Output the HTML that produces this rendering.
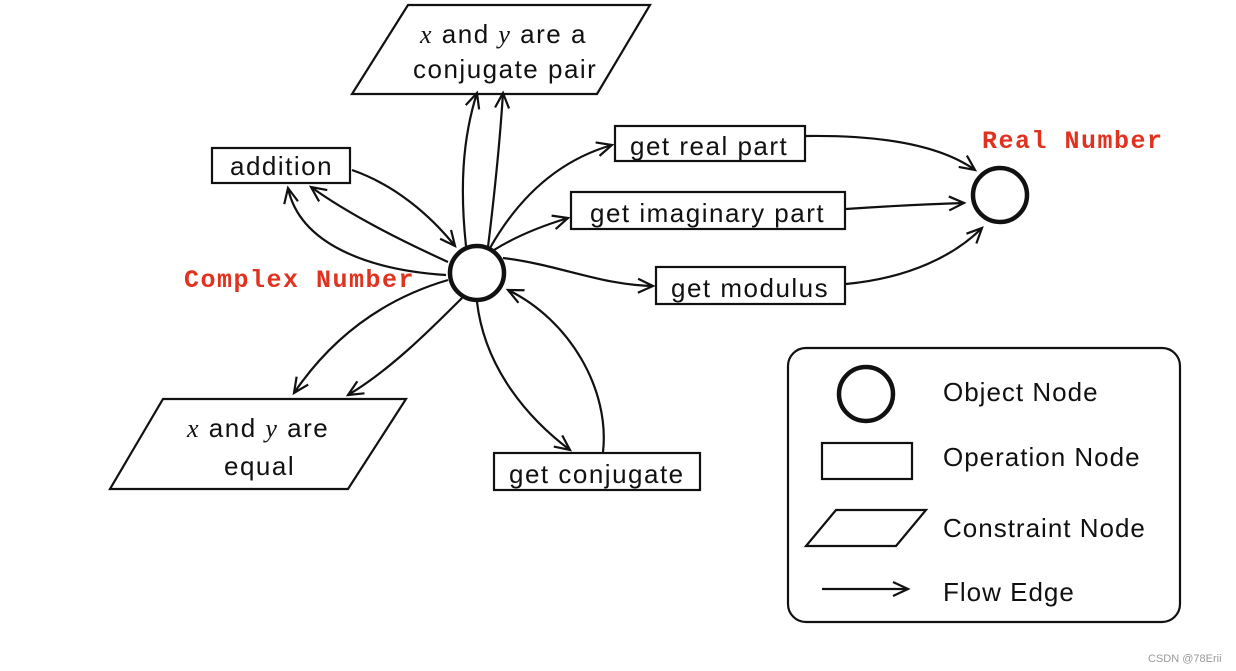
<!DOCTYPE html>
<html><head><meta charset="utf-8"><style>
html,body{margin:0;padding:0;background:#fff;}
svg{display:block;}
text{font-family:"Liberation Sans",sans-serif;font-size:26px;fill:#111;letter-spacing:1.5px;}
.lg{letter-spacing:1px;}
.r{font-family:"Liberation Mono",monospace;font-weight:bold;font-size:25px;fill:#e0321e;letter-spacing:1.5px;}
.m{font-family:"Liberation Serif",serif;font-style:italic;}
</style></head><body>
<svg width="1236" height="671" viewBox="0 0 1236 671" xmlns="http://www.w3.org/2000/svg">
<defs>
<marker id="a" markerWidth="20" markerHeight="20" refX="17" refY="8" orient="auto" markerUnits="userSpaceOnUse">
<path d="M2,1 L17,8 L2,15" fill="none" stroke="#111" stroke-width="2.2"/>
</marker>
</defs>
<g fill="none" stroke="#111" stroke-width="2.2">
<path d="M408,5 L650,5 L597,94 L352,94 Z"/>
<rect x="212" y="148" width="138" height="35"/>
<rect x="615" y="126" width="190" height="35"/>
<rect x="571" y="192" width="274" height="37"/>
<rect x="656" y="267" width="189" height="37"/>
<rect x="494" y="453" width="206" height="37"/>
<path d="M163,399 L406,399 L348,489 L110,489 Z"/>
<circle cx="477" cy="273" r="27" stroke-width="4.5"/>
<circle cx="1000" cy="195" r="27" stroke-width="4.5"/>
<g marker-end="url(#a)">
<path d="M352,170 C395,185 430,215 455,246"/>
<path d="M448,262 C400,240 350,215 311,187"/>
<path d="M446,275 C370,270 300,245 288,188"/>
<path d="M466,246 C460,190 462,140 477,93"/>
<path d="M488,247 C495,190 500,140 503,93"/>
<path d="M490,248 C520,195 560,160 612,145"/>
<path d="M494,250 C510,240 535,228 568,218"/>
<path d="M503,258 C560,265 600,285 653,286"/>
<path d="M448,280 C380,300 330,340 294,393"/>
<path d="M462,298 C430,330 390,370 348,395"/>
<path d="M477,302 C485,370 530,420 570,450"/>
<path d="M603,452 C610,390 570,320 508,290"/>
<path d="M806,136 C880,135 940,145 975,170"/>
<path d="M846,209 C890,206 930,204 964,203"/>
<path d="M846,284 C910,278 955,255 982,228"/>
</g>
<rect x="788" y="348" width="392" height="274" rx="18"/>
<circle cx="866" cy="394" r="27" stroke-width="4.5"/>
<rect x="822" y="443" width="90" height="36"/>
<path d="M836,510 L926,510 L896,546 L806,546 Z"/>
<path d="M822,589 L908,589" marker-end="url(#a)"/>
</g>
<text x="230" y="175">addition</text>
<text x="630" y="155">get real part</text>
<text x="590" y="222">get imaginary part</text>
<text x="671" y="297">get modulus</text>
<text x="509" y="483">get conjugate</text>
<text x="420" y="43"><tspan class="m">x</tspan> and <tspan class="m">y</tspan> are a</text>
<text x="413" y="78">conjugate pair</text>
<text x="187" y="437"><tspan class="m">x</tspan> and <tspan class="m">y</tspan> are</text>
<text x="224" y="475">equal</text>
<text class="r" x="982" y="148">Real Number</text>
<text class="r" x="184" y="287">Complex Number</text>
<text class="lg" x="943" y="401">Object Node</text>
<text class="lg" x="943" y="466">Operation Node</text>
<text class="lg" x="943" y="537">Constraint Node</text>
<text class="lg" x="943" y="601">Flow Edge</text>
<text x="1148" y="662" style="font-size:11px;fill:#999;letter-spacing:0">CSDN @78Erii</text>
</svg>
</body></html>
